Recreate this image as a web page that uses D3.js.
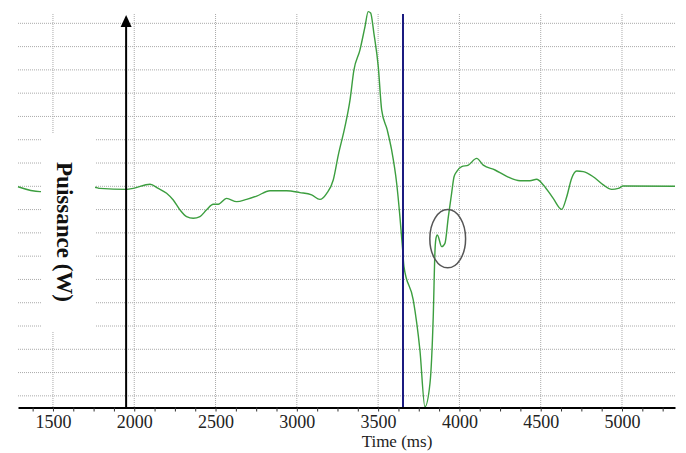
<!DOCTYPE html>
<meta charset="utf-8">

<!-- Load D3 -->
<script src="https://d3js.org/d3.v7.min.js"></script>

<body style="margin: 0; background: #ffffff;">
<div id="graph"></div>
</body>
<script>

    // Power trace (time in ms, power in W)
    var timeMs = [1285, 1420, 1543, 1758, 1789, 1953, 1994, 2097, 2148, 2199, 2240, 2281, 2322, 2363,
        2404, 2445, 2486, 2517, 2568, 2630, 2691, 2753, 2835, 2937, 3019, 3091, 3142, 3184, 3224,
        3255, 3296, 3327, 3351, 3388, 3419, 3439, 3454, 3474, 3501, 3522, 3556, 3583, 3614, 3634,
        3651, 3659, 3716, 3757, 3788, 3819, 3839, 3850, 3856, 3864, 3891, 3911, 3932, 3952, 3967,
        3983, 4014, 4055, 4106, 4147, 4219, 4291, 4373, 4434, 4475, 4516, 4577, 4629, 4660, 4690,
        4721, 4762, 4823, 4885, 4937, 4977, 5008, 5326];
    var powerW = [-2, -23, -16, -4, -9, -13, -9, 9, -9, -30, -59, -101, -130, -137,
        -130, -101, -77, -77, -52, -66, -56, -42, -19, -19, -27, -37, -56, -30, 27,
        134, 256, 370, 499, 585, 685, 750, 744, 657, 513, 327, 242, 156, 13, -130,
        -273, -345, -488, -703, -947, -846, -560, -273, -223, -209, -259, -245, -130, -30, 41,
        63, 84, 91, 120, 91, 70, 43, 24, 24, 30, 6, -52, -99, -45, 34,
        66, 63, 41, 6, -13, -9, 1, 0];

    // Axis ticks
    var labelTicks = [1500, 2000, 2500, 3000, 3500, 4000, 4500, 5000];
    var minorTicks = d3.range(1375, 5326, 125);
    var gridPower = d3.range(-900, 701, 100);

    // Markers
    var arrowTime = 1950;
    var cursorTime = 3653;
    var circled = {time: 3928, power: -225, dt: 110, dp: 125};

    var data = timeMs.map(function (t, i) { return {t: t, p: powerW[i]}; });

    var width = 686, height = 453;

    var svg = d3.select("#graph")
        .append("svg")
        .attr("width", width)
        .attr("height", height);

    // Scales
    var x = d3.scaleLinear().domain([1285, 5326]).range([18, 675]);
    var y = d3.scaleLinear().domain([-950, 740]).range([407.5, 14]);

    // Grid
    svg.append("g")
        .selectAll("line")
        .data(gridPower)
        .enter()
        .append("line")
        .attr("x1", 18).attr("x2", 675)
        .attr("y1", function (d) { return y(d); })
        .attr("y2", function (d) { return y(d); })
        .style("stroke", "#aaaaaa")
        .style("stroke-dasharray", "1,1");

    svg.append("g")
        .selectAll("line")
        .data(labelTicks)
        .enter()
        .append("line")
        .attr("x1", function (d) { return x(d); })
        .attr("x2", function (d) { return x(d); })
        .attr("y1", 14).attr("y2", 407)
        .style("stroke", "#aaaaaa")
        .style("stroke-dasharray", "1,1");

    // Power line
    svg.append("path")
        .datum(data)
        .attr("fill", "none")
        .attr("stroke", "#3c9e3f")
        .attr("stroke-width", 1.4)
        .attr("d", d3.line()
            .curve(d3.curveMonotoneX)
            .x(function (d) { return x(d.t); })
            .y(function (d) { return y(d.p); }));

    // White box behind the y label
    svg.append("rect")
        .attr("x", 41).attr("y", 133)
        .attr("width", 54).attr("height", 199)
        .style("fill", "#ffffff");

    svg.append("text")
        .attr("transform", "translate(57,232) rotate(90)")
        .attr("text-anchor", "middle")
        .style("font-family", "'Liberation Serif', 'Times New Roman', serif")
        .style("font-weight", "bold")
        .style("font-size", "23px")
        .style("fill", "#111")
        .text("Puissance (W)");

    // Cursor line
    svg.append("line")
        .attr("x1", x(cursorTime)).attr("x2", x(cursorTime))
        .attr("y1", 14).attr("y2", 407)
        .style("stroke", "#1b1b80")
        .style("stroke-width", 2);

    // Black arrow
    svg.append("line")
        .attr("x1", x(arrowTime)).attr("x2", x(arrowTime))
        .attr("y1", 407).attr("y2", 26)
        .style("stroke", "#000")
        .style("stroke-width", 2);
    svg.append("path")
        .attr("d", "M" + x(arrowTime) + ",15 L" + (x(arrowTime) - 5.5) + ",27 L" + (x(arrowTime) + 5.5) + ",27 Z")
        .style("fill", "#000");

    // Ellipse around the bump
    svg.append("ellipse")
        .attr("cx", x(circled.time))
        .attr("cy", y(circled.power))
        .attr("rx", x(circled.time + circled.dt) - x(circled.time))
        .attr("ry", y(circled.power - circled.dp) - y(circled.power))
        .style("fill", "none")
        .style("stroke", "#555")
        .style("stroke-width", 1.5);

    // X axis
    var xAxis = svg.append("g")
        .attr("transform", "translate(0,407.5)")
        .call(d3.axisBottom(x)
            .tickValues(minorTicks)
            .tickSize(4)
            .tickSizeOuter(0)
            .tickFormat(function (d) { return d % 500 === 0 ? d : ""; }));
    xAxis.select(".domain")
        .style("stroke", "#000")
        .style("stroke-width", 2);
    xAxis.selectAll(".tick line")
        .style("stroke", "#333");
    xAxis.selectAll(".tick text")
        .attr("y", 20)
        .attr("dy", 0)
        .style("font-family", "'Liberation Serif', 'Times New Roman', serif")
        .style("font-size", "18px")
        .style("fill", "#222");

    // X Axis Label
    svg.append("text")
        .attr("x", 397)
        .attr("y", 447)
        .attr("text-anchor", "middle")
        .style("font-family", "'Liberation Serif', 'Times New Roman', serif")
        .style("font-size", "17px")
        .style("fill", "#222")
        .text("Time (ms)");

</script>
